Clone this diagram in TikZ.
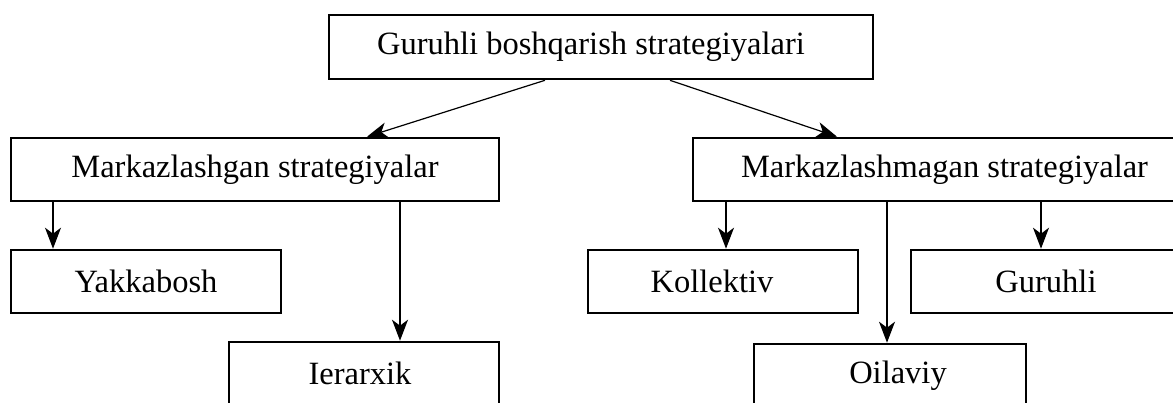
\documentclass[tikz,border=0pt]{standalone}
\usepackage{fontspec}
\setmainfont{Liberation Serif}
\usetikzlibrary{arrows.meta}
\begin{document}
\begin{tikzpicture}[x=1pt,y=-1pt,
  box/.style={draw=black, line width=2.6pt, fill=white, inner sep=0pt,
    minimum height=63pt, font=\fontsize{32.5}{38}\selectfont},
  link/.style={line width=1.2pt, -{Stealth[length=21pt,width=16pt,inset=6pt]}},
  thicklink/.style={link, line width=1.8pt}]
  \useasboundingbox (0,0) rectangle (1173,403);
  \fill[white] (0,0) rectangle (1173,403);
  \begin{scope}
    \clip (0,0) rectangle (1173,403);
    % boxes
    \node[box, minimum width=544pt, minimum height=64pt] (top) at (601,47) {Guruhli boshqarish strategiyalari\hspace*{20pt}};
    \node[box, minimum width=488pt] (mg)  at (255,169.5)  {Markazlashgan strategiyalar};
    \node[box, minimum width=503pt] (mgn) at (944.5,169.5) {Markazlashmagan strategiyalar};
    \node[box, minimum width=270pt] (yak) at (146,281.5)  {Yakkabosh};
    \node[box, minimum width=270pt] (ier) at (364,373.5)  {Ierarxik\hspace*{8pt}};
    \node[box, minimum width=270pt] (kol) at (723,281.5)  {Kollektiv\hspace*{22pt}};
    \node[box, minimum width=270pt] (gur) at (1046,281.5) {Guruhli};
    \node[box, minimum width=272pt] (oil) at (890,375.5)  {\hspace*{16pt}Oilaviy};
    % connectors
    \draw[link] (top.south -| 545,0) -- (mg.north -| 367,0);
    \draw[link] (top.south -| 670,0) -- (mgn.north -| 837,0);
    \draw[link] (mg.south -| 53,0) -- (yak.north -| 53,0);
    \draw[thicklink] (mg.south -| 400,0) -- (ier.north -| 400,0);
    \draw[link] (mgn.south -| 726,0) -- (kol.north -| 726,0);
    \draw[link] (mgn.south -| 887,0) -- (oil.north -| 887,0);
    \draw[link] (mgn.south -| 1041,0) -- (gur.north -| 1041,0);
  \end{scope}
\end{tikzpicture}
\end{document}
